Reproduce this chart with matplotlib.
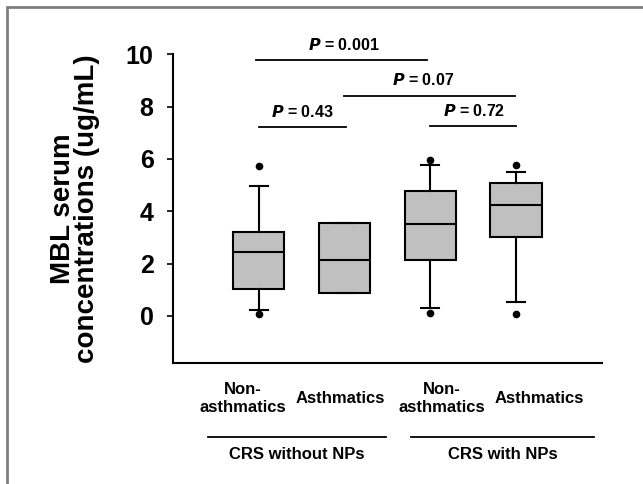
import matplotlib.pyplot as plt
from matplotlib.patches import Rectangle

plt.rcParams['font.family'] = ['Liberation Sans', 'DejaVu Sans']

# box statistics
positions = [1, 2, 3, 4]
q1 = [1.04, 0.87, 2.13, 3.03]
medians = [2.46, 2.14, 3.50, 4.24]
q3 = [3.22, 3.54, 4.78, 5.06]
whislo = [0.22, 0.87, 0.32, 0.53]
whishi = [4.95, 3.54, 5.76, 5.49]
fliers = [[5.72, 0.06], [], [5.97, 0.10], [5.76, 0.06]]

cat_labels = ['Non-\nasthmatics', 'Asthmatics', 'Non-\nasthmatics', 'Asthmatics']
cat_x = [0.81, 1.95, 3.13, 4.27]
groups = ['CRS without NPs', 'CRS with NPs']
group_x = [1.44, 3.84]
group_lines = [(0.41, 2.48), (2.77, 4.91)]

# significance brackets: (x0, x1, y, text x, text y, p)
sig = [
    (0.97, 2.96, 9.78, 1.99, 10.36, '0.001'),
    (1.99, 3.99, 8.41, 2.92, 9.02, '0.07'),
    (1.00, 2.02, 7.23, 1.51, 7.81, '0.43'),
    (3.00, 4.00, 7.27, 3.51, 7.83, '0.72'),
]

stats = []
for i in range(len(positions)):
    stats.append(dict(q1=q1[i], med=medians[i], q3=q3[i],
                      whislo=whislo[i], whishi=whishi[i], fliers=fliers[i]))

fig = plt.figure(figsize=(6.43, 4.84), dpi=100)
ax = fig.add_axes([0.269, 0.25, 0.667, 0.638])

ax.bxp(stats, positions=positions, widths=0.6, capwidths=0.21, patch_artist=True,
       showfliers=True,
       boxprops=dict(facecolor='#c0c0c0', edgecolor='black', linewidth=1.5),
       medianprops=dict(color='black', linewidth=1.5),
       whiskerprops=dict(color='black', linewidth=1.5),
       capprops=dict(color='black', linewidth=1.5),
       flierprops=dict(marker='o', markerfacecolor='black', markeredgecolor='black',
                       markersize=4.5))

ax.set_xlim(0, 5)
ax.set_ylim(-1.8, 10)
ax.set_yticks([0, 2, 4, 6, 8, 10])
ax.set_xticks([])
ax.spines['top'].set_visible(False)
ax.spines['right'].set_visible(False)
ax.spines['left'].set_linewidth(1.5)
ax.spines['bottom'].set_linewidth(1.5)
ax.tick_params(axis='y', length=4, width=1.2, labelsize=18, pad=10)
for t in ax.get_yticklabels():
    t.set_fontweight('bold')

ax.set_ylabel('MBL serum\nconcentrations (ug/mL)', fontsize=20, fontweight='bold',
              linespacing=0.9)
ax.yaxis.set_label_coords(-0.17, 0.5)

for x0, x1, y, tx, ty, p in sig:
    ax.plot([x0, x1], [y, y], color='black', lw=1.3, clip_on=False)
    ax.text(tx, ty, r'$\mathbfit{P}$' + ' = ' + p, ha='center', va='center',
            fontsize=11.5, fontweight='bold', clip_on=False)

for x, lab in zip(cat_x, cat_labels):
    ax.text(x, -3.15, lab, ha='center', va='center', fontsize=12, fontweight='bold',
            linespacing=1.3, clip_on=False)

for (x0, x1), x, g in zip(group_lines, group_x, groups):
    ax.plot([x0, x1], [-4.61, -4.61], color='black', lw=1.3, clip_on=False)
    ax.text(x, -5.3, g, ha='center', va='center', fontsize=12, fontweight='bold',
            clip_on=False)

fig.patches.append(Rectangle((7 / 643, -0.1), 1.2, 1 - 7 / 484 + 0.1,
                             transform=fig.transFigure, fill=False,
                             edgecolor='#808080', linewidth=2))

plt.savefig('out.png', dpi=100)
